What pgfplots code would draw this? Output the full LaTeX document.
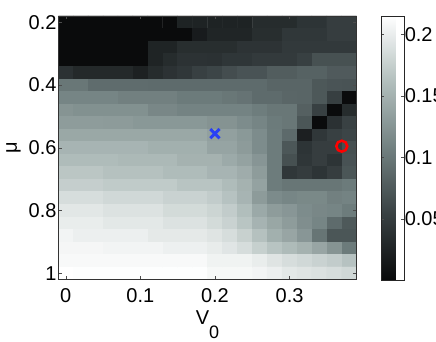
\documentclass[border=0pt]{standalone}
\usepackage{fontspec}
\setmainfont{Liberation Sans}
\usepackage{pgfplots}
\pgfplotsset{compat=1.18}
\usepackage{pgfplotstable}

\newcommand\ff{\fontsize{20}{24}\selectfont}
\definecolor{markblue}{rgb}{0.16,0.25,0.96}

\pgfplotsset{colormap={matbone}{rgb255(0cm)=(8,9,10); rgb255(1cm)=(56,64,66); rgb255(2cm)=(113,128,128); rgb255(3cm)=(177,190,188); rgb255(4cm)=(255,255,255)}}

% x = V0, y = mu, c = value (rows of mu, 20 cells each)
\pgfplotstableread[row sep=\\]{
x y c\\
0 0.2 0.002\\ 0.02 0.2 0.002\\ 0.04 0.2 0.002\\ 0.06 0.2 0.002\\ 0.08 0.2 0.002\\ 0.1 0.2 0.002\\ 0.12 0.2 0.002\\ 0.14 0.2 0.002\\ 0.16 0.2 0.025\\ 0.18 0.2 0.025\\ 0.2 0.2 0.025\\ 0.22 0.2 0.025\\ 0.24 0.2 0.025\\ 0.26 0.2 0.034\\ 0.28 0.2 0.034\\ 0.3 0.2 0.034\\ 0.32 0.2 0.042\\ 0.34 0.2 0.042\\ 0.36 0.2 0.051\\ 0.38 0.2 0.051\\
0 0.24 0.002\\ 0.02 0.24 0.002\\ 0.04 0.24 0.002\\ 0.06 0.24 0.002\\ 0.08 0.24 0.002\\ 0.1 0.24 0.002\\ 0.12 0.24 0.002\\ 0.14 0.24 0.002\\ 0.16 0.24 0.002\\ 0.18 0.24 0.018\\ 0.2 0.24 0.027\\ 0.22 0.24 0.027\\ 0.24 0.24 0.027\\ 0.26 0.24 0.036\\ 0.28 0.24 0.036\\ 0.3 0.24 0.045\\ 0.32 0.24 0.045\\ 0.34 0.24 0.045\\ 0.36 0.24 0.051\\ 0.38 0.24 0.051\\
0 0.28 0.002\\ 0.02 0.28 0.002\\ 0.04 0.28 0.002\\ 0.06 0.28 0.002\\ 0.08 0.28 0.002\\ 0.1 0.28 0.002\\ 0.12 0.28 0.026\\ 0.14 0.28 0.026\\ 0.16 0.28 0.036\\ 0.18 0.28 0.036\\ 0.2 0.28 0.036\\ 0.22 0.28 0.036\\ 0.24 0.28 0.041\\ 0.26 0.28 0.041\\ 0.28 0.28 0.041\\ 0.3 0.28 0.047\\ 0.32 0.28 0.047\\ 0.34 0.28 0.047\\ 0.36 0.28 0.047\\ 0.38 0.28 0.047\\
0 0.32 0.002\\ 0.02 0.32 0.002\\ 0.04 0.32 0.002\\ 0.06 0.32 0.002\\ 0.08 0.32 0.002\\ 0.1 0.32 0.002\\ 0.12 0.32 0.026\\ 0.14 0.32 0.034\\ 0.16 0.32 0.040\\ 0.18 0.32 0.040\\ 0.2 0.32 0.039\\ 0.22 0.32 0.044\\ 0.24 0.32 0.044\\ 0.26 0.32 0.048\\ 0.28 0.32 0.048\\ 0.3 0.32 0.048\\ 0.32 0.32 0.054\\ 0.34 0.32 0.068\\ 0.36 0.32 0.068\\ 0.38 0.32 0.068\\
0 0.36 0.039\\ 0.02 0.36 0.031\\ 0.04 0.36 0.031\\ 0.06 0.36 0.031\\ 0.08 0.36 0.031\\ 0.1 0.36 0.023\\ 0.12 0.36 0.034\\ 0.14 0.36 0.040\\ 0.16 0.36 0.045\\ 0.18 0.36 0.054\\ 0.2 0.36 0.058\\ 0.22 0.36 0.065\\ 0.24 0.36 0.070\\ 0.26 0.36 0.070\\ 0.28 0.36 0.078\\ 0.3 0.36 0.078\\ 0.32 0.36 0.082\\ 0.34 0.36 0.082\\ 0.36 0.36 0.076\\ 0.38 0.36 0.076\\
0 0.4 0.100\\ 0.02 0.4 0.100\\ 0.04 0.4 0.091\\ 0.06 0.4 0.091\\ 0.08 0.4 0.091\\ 0.1 0.4 0.091\\ 0.12 0.4 0.090\\ 0.14 0.4 0.090\\ 0.16 0.4 0.090\\ 0.18 0.4 0.090\\ 0.2 0.4 0.090\\ 0.22 0.4 0.090\\ 0.24 0.4 0.090\\ 0.26 0.4 0.090\\ 0.28 0.4 0.085\\ 0.3 0.4 0.085\\ 0.32 0.4 0.085\\ 0.34 0.4 0.074\\ 0.36 0.4 0.071\\ 0.38 0.4 0.070\\
0 0.44 0.112\\ 0.02 0.44 0.112\\ 0.04 0.44 0.112\\ 0.06 0.44 0.112\\ 0.08 0.44 0.108\\ 0.1 0.44 0.108\\ 0.12 0.44 0.108\\ 0.14 0.44 0.108\\ 0.16 0.44 0.103\\ 0.18 0.44 0.103\\ 0.2 0.44 0.103\\ 0.22 0.44 0.100\\ 0.24 0.44 0.097\\ 0.26 0.44 0.090\\ 0.28 0.44 0.090\\ 0.3 0.44 0.086\\ 0.32 0.44 0.085\\ 0.34 0.44 0.074\\ 0.36 0.44 0.053\\ 0.38 0.44 0.002\\
0 0.48 0.125\\ 0.02 0.48 0.122\\ 0.04 0.48 0.122\\ 0.06 0.48 0.122\\ 0.08 0.48 0.122\\ 0.1 0.48 0.122\\ 0.12 0.48 0.114\\ 0.14 0.48 0.114\\ 0.16 0.48 0.110\\ 0.18 0.48 0.110\\ 0.2 0.48 0.110\\ 0.22 0.48 0.110\\ 0.24 0.48 0.110\\ 0.26 0.48 0.105\\ 0.28 0.48 0.100\\ 0.3 0.48 0.100\\ 0.32 0.48 0.081\\ 0.34 0.48 0.054\\ 0.36 0.48 0.002\\ 0.38 0.48 0.034\\
0 0.52 0.132\\ 0.02 0.52 0.132\\ 0.04 0.52 0.132\\ 0.06 0.52 0.131\\ 0.08 0.52 0.131\\ 0.1 0.52 0.128\\ 0.12 0.52 0.128\\ 0.14 0.52 0.128\\ 0.16 0.52 0.128\\ 0.18 0.52 0.128\\ 0.2 0.52 0.124\\ 0.22 0.52 0.124\\ 0.24 0.52 0.118\\ 0.26 0.52 0.112\\ 0.28 0.52 0.103\\ 0.3 0.52 0.100\\ 0.32 0.52 0.072\\ 0.34 0.52 0.002\\ 0.36 0.52 0.039\\ 0.38 0.52 0.055\\
0 0.56 0.142\\ 0.02 0.56 0.142\\ 0.04 0.56 0.142\\ 0.06 0.56 0.142\\ 0.08 0.56 0.142\\ 0.1 0.56 0.142\\ 0.12 0.56 0.142\\ 0.14 0.56 0.142\\ 0.16 0.56 0.142\\ 0.18 0.56 0.142\\ 0.2 0.56 0.135\\ 0.22 0.56 0.135\\ 0.24 0.56 0.129\\ 0.26 0.56 0.118\\ 0.28 0.56 0.104\\ 0.3 0.56 0.089\\ 0.32 0.56 0.022\\ 0.34 0.56 0.045\\ 0.36 0.56 0.054\\ 0.38 0.56 0.058\\
0 0.6 0.153\\ 0.02 0.6 0.153\\ 0.04 0.6 0.153\\ 0.06 0.6 0.153\\ 0.08 0.6 0.153\\ 0.1 0.6 0.153\\ 0.12 0.6 0.149\\ 0.14 0.6 0.149\\ 0.16 0.6 0.149\\ 0.18 0.6 0.149\\ 0.2 0.6 0.139\\ 0.22 0.6 0.139\\ 0.24 0.6 0.131\\ 0.26 0.6 0.118\\ 0.28 0.6 0.104\\ 0.3 0.6 0.073\\ 0.32 0.6 0.042\\ 0.34 0.6 0.051\\ 0.36 0.6 0.051\\ 0.38 0.6 0.067\\
0 0.64 0.160\\ 0.02 0.64 0.160\\ 0.04 0.64 0.160\\ 0.06 0.64 0.160\\ 0.08 0.64 0.157\\ 0.1 0.64 0.157\\ 0.12 0.64 0.157\\ 0.14 0.64 0.157\\ 0.16 0.64 0.151\\ 0.18 0.64 0.151\\ 0.2 0.64 0.151\\ 0.22 0.64 0.144\\ 0.24 0.64 0.137\\ 0.26 0.64 0.126\\ 0.28 0.64 0.104\\ 0.3 0.64 0.067\\ 0.32 0.64 0.044\\ 0.34 0.64 0.051\\ 0.36 0.64 0.042\\ 0.38 0.64 0.069\\
0 0.68 0.168\\ 0.02 0.68 0.168\\ 0.04 0.68 0.168\\ 0.06 0.68 0.164\\ 0.08 0.68 0.164\\ 0.1 0.68 0.164\\ 0.12 0.68 0.164\\ 0.14 0.68 0.160\\ 0.16 0.68 0.160\\ 0.18 0.68 0.160\\ 0.2 0.68 0.153\\ 0.22 0.68 0.153\\ 0.24 0.68 0.146\\ 0.26 0.68 0.132\\ 0.28 0.68 0.104\\ 0.3 0.68 0.045\\ 0.32 0.68 0.050\\ 0.34 0.68 0.042\\ 0.36 0.68 0.051\\ 0.38 0.68 0.072\\
0 0.72 0.175\\ 0.02 0.72 0.175\\ 0.04 0.72 0.175\\ 0.06 0.72 0.172\\ 0.08 0.72 0.172\\ 0.1 0.72 0.172\\ 0.12 0.72 0.172\\ 0.14 0.72 0.172\\ 0.16 0.72 0.166\\ 0.18 0.72 0.166\\ 0.2 0.72 0.166\\ 0.22 0.72 0.160\\ 0.24 0.72 0.151\\ 0.26 0.72 0.137\\ 0.28 0.72 0.104\\ 0.3 0.72 0.099\\ 0.32 0.72 0.099\\ 0.34 0.72 0.099\\ 0.36 0.72 0.099\\ 0.38 0.72 0.103\\
0 0.76 0.187\\ 0.02 0.76 0.187\\ 0.04 0.76 0.187\\ 0.06 0.76 0.183\\ 0.08 0.76 0.183\\ 0.1 0.76 0.183\\ 0.12 0.76 0.183\\ 0.14 0.76 0.178\\ 0.16 0.76 0.178\\ 0.18 0.76 0.178\\ 0.2 0.76 0.173\\ 0.22 0.76 0.165\\ 0.24 0.76 0.153\\ 0.26 0.76 0.131\\ 0.28 0.76 0.117\\ 0.3 0.76 0.113\\ 0.32 0.76 0.115\\ 0.34 0.76 0.115\\ 0.36 0.76 0.108\\ 0.38 0.76 0.110\\
0 0.8 0.195\\ 0.02 0.8 0.195\\ 0.04 0.8 0.195\\ 0.06 0.8 0.191\\ 0.08 0.8 0.191\\ 0.1 0.8 0.191\\ 0.12 0.8 0.191\\ 0.14 0.8 0.185\\ 0.16 0.8 0.185\\ 0.18 0.8 0.185\\ 0.2 0.8 0.180\\ 0.22 0.8 0.173\\ 0.24 0.8 0.161\\ 0.26 0.8 0.143\\ 0.28 0.8 0.132\\ 0.3 0.8 0.127\\ 0.32 0.8 0.118\\ 0.34 0.8 0.114\\ 0.36 0.8 0.112\\ 0.38 0.8 0.104\\
0 0.84 0.200\\ 0.02 0.84 0.200\\ 0.04 0.84 0.200\\ 0.06 0.84 0.196\\ 0.08 0.84 0.196\\ 0.1 0.84 0.196\\ 0.12 0.84 0.196\\ 0.14 0.84 0.191\\ 0.16 0.84 0.191\\ 0.18 0.84 0.191\\ 0.2 0.84 0.185\\ 0.22 0.84 0.178\\ 0.24 0.84 0.167\\ 0.26 0.84 0.152\\ 0.28 0.84 0.141\\ 0.3 0.84 0.132\\ 0.32 0.84 0.120\\ 0.34 0.84 0.112\\ 0.36 0.84 0.090\\ 0.38 0.84 0.075\\
0 0.88 0.206\\ 0.02 0.88 0.202\\ 0.04 0.88 0.202\\ 0.06 0.88 0.202\\ 0.08 0.88 0.202\\ 0.1 0.88 0.202\\ 0.12 0.88 0.197\\ 0.14 0.88 0.197\\ 0.16 0.88 0.197\\ 0.18 0.88 0.197\\ 0.2 0.88 0.193\\ 0.22 0.88 0.187\\ 0.24 0.88 0.177\\ 0.26 0.88 0.164\\ 0.28 0.88 0.149\\ 0.3 0.88 0.140\\ 0.32 0.88 0.127\\ 0.34 0.88 0.098\\ 0.36 0.88 0.072\\ 0.38 0.88 0.072\\
0 0.92 0.208\\ 0.02 0.92 0.208\\ 0.04 0.92 0.208\\ 0.06 0.92 0.206\\ 0.08 0.92 0.206\\ 0.1 0.92 0.206\\ 0.12 0.92 0.206\\ 0.14 0.92 0.203\\ 0.16 0.92 0.203\\ 0.18 0.92 0.203\\ 0.2 0.92 0.199\\ 0.22 0.92 0.194\\ 0.24 0.92 0.187\\ 0.26 0.92 0.176\\ 0.28 0.92 0.166\\ 0.3 0.92 0.159\\ 0.32 0.92 0.151\\ 0.34 0.92 0.140\\ 0.36 0.92 0.125\\ 0.38 0.92 0.103\\
0 0.96 0.210\\ 0.02 0.96 0.210\\ 0.04 0.96 0.210\\ 0.06 0.96 0.210\\ 0.08 0.96 0.210\\ 0.1 0.96 0.210\\ 0.12 0.96 0.210\\ 0.14 0.96 0.210\\ 0.16 0.96 0.210\\ 0.18 0.96 0.210\\ 0.2 0.96 0.205\\ 0.22 0.96 0.205\\ 0.24 0.96 0.205\\ 0.26 0.96 0.200\\ 0.28 0.96 0.193\\ 0.3 0.96 0.187\\ 0.32 0.96 0.183\\ 0.34 0.96 0.178\\ 0.36 0.96 0.173\\ 0.38 0.96 0.165\\
0 1 0.215\\ 0.02 1 0.214\\ 0.04 1 0.214\\ 0.06 1 0.214\\ 0.08 1 0.214\\ 0.1 1 0.214\\ 0.12 1 0.214\\ 0.14 1 0.214\\ 0.16 1 0.214\\ 0.18 1 0.214\\ 0.2 1 0.209\\ 0.22 1 0.209\\ 0.24 1 0.209\\ 0.26 1 0.206\\ 0.28 1 0.202\\ 0.3 1 0.196\\ 0.32 1 0.193\\ 0.34 1 0.190\\ 0.36 1 0.187\\ 0.38 1 0.183\\
}\gridtab

\begin{document}
\begin{tikzpicture}
\useasboundingbox (-58.3pt,-62.5pt) rectangle (377.7pt,279.5pt);
\clip (-58.3pt,-62.5pt) rectangle (377.7pt,279.5pt);
\begin{axis}[
  at={(0pt,0pt)}, anchor=south west,
  scale only axis, width=298.4pt, height=263.5pt,
  xmin=-0.01, xmax=0.39, ymin=0.18, ymax=1.02,
  y dir=reverse, enlargelimits=false, axis on top,
  colormap name=matbone, point meta min=0, point meta max=0.215,
  xtick={0,0.1,0.2,0.3}, xticklabels={0,0.1,0.2,0.3},
  ytick={0.2,0.4,0.6,0.8,1}, yticklabels={0.2,0.4,0.6,0.8,1},
  tick align=inside, major tick length=3.5pt,
  axis line style={black!80, line width=0.6pt},
  tick style={black!70, line width=0.5pt},
  tick label style={font=\ff},
  xticklabel style={yshift=-5pt},
  yticklabel style={xshift=1.7pt},
  label style={font=\ff},
  xlabel={V\raisebox{-14pt}{\fontsize{18}{20}\selectfont 0}},
  xlabel style={at={(axis description cs:0.5,0)}, anchor=base, yshift=-45pt},
  ylabel={μ},
  ylabel style={at={(axis description cs:-0.15,0.5)}, anchor=center, inner sep=0pt},
  colorbar,
  colorbar style={
    at={(parent axis.north east)}, anchor=north west, xshift=16pt,
    scale only axis, width=23pt, height=264.5pt,
    ytick={0.05,0.1,0.15,0.2}, yticklabels={0.05,0.1,0.15,0.2},
    ytick pos=both, yticklabel pos=right,
    tick align=inside, major tick length=3pt,
    axis line style={black!85, line width=0.6pt},
    tick style={black!70, line width=0.5pt},
    yticklabel style={font=\ff, xshift=-3pt},
  },
]
\addplot[matrix plot*, mesh/cols=20, point meta=explicit] table[x=x, y=y, meta=c] {\gridtab};
\addplot[only marks, mark=x, mark size=6.5pt, line width=3pt, color=markblue] coordinates {(0.2,0.555)};
\addplot[only marks, mark=o, mark size=5.5pt, line width=2.5pt, color=red] coordinates {(0.37,0.595)};
\end{axis}
\end{tikzpicture}
\end{document}
